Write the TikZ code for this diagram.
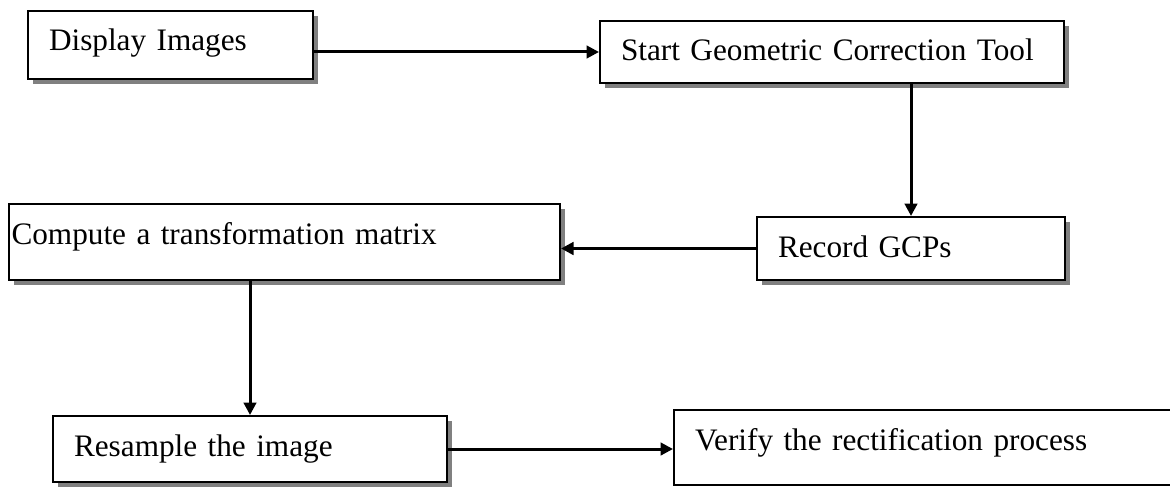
\documentclass[tikz,border=0pt]{standalone}
\usepackage{fontspec}
\setmainfont{Liberation Serif}
\usetikzlibrary{arrows.meta, shadows, calc}

\begin{document}
\begin{tikzpicture}[
  x=0.4pt, y=-0.4pt,
  >=Triangle,
  every node/.style={font=\fontsize{12.5pt}{15pt}\selectfont},
  stage/.style={rectangle, draw=black, line width=0.8pt, fill=white,
             anchor=north west, align=left, inner xsep=8.4pt, inner ysep=0pt,
             text height=16pt,
             drop shadow={shadow xshift=2pt, shadow yshift=-2pt, fill=black!50, opacity=1}},
  plain/.style={rectangle, draw=black, line width=0.8pt, fill=white,
             anchor=north west, align=left, inner xsep=8.4pt, inner ysep=0pt,
             text height=16pt},
  arrow/.style={-{Triangle[length=5pt,width=5pt]}, line width=1.2pt}
]
\useasboundingbox (0,0) rectangle (1170,486);

% Main flow
\node[stage, text width=97.2pt, text depth=11.2pt] (display) at (27,10)
  {Display Images};
\node[stage, text width=168.8pt, text depth=8.8pt] (start) at (599,20)
  {Start Geometric Correction Tool};
\node[stage, text width=106.4pt, text depth=9.2pt] (record) at (756,216)
  {Record GCPs};
\node[stage, inner xsep=1pt, text width=218.4pt, text depth=14.4pt] (compute) at (8,203)
  {Compute a transformation matrix};
\node[stage, text width=140.8pt, text depth=10.4pt] (resample) at (52,415)
  {Resample the image};
\node[plain, text width=186pt, text depth=14pt] (verify) at (673,409)
  {Verify the rectification process};

% Arrows
\draw[arrow] (display.east |- start.west) -- (start.west);
\draw[arrow] (start.south -| record.north) -- (record.north);
\draw[arrow] (record.west) -- (compute.east |- record.west);
\draw[arrow] (compute.south -| resample.north) -- (resample.north);
\draw[arrow] (resample.east) -- (verify.west |- resample.east);

\end{tikzpicture}
\end{document}
